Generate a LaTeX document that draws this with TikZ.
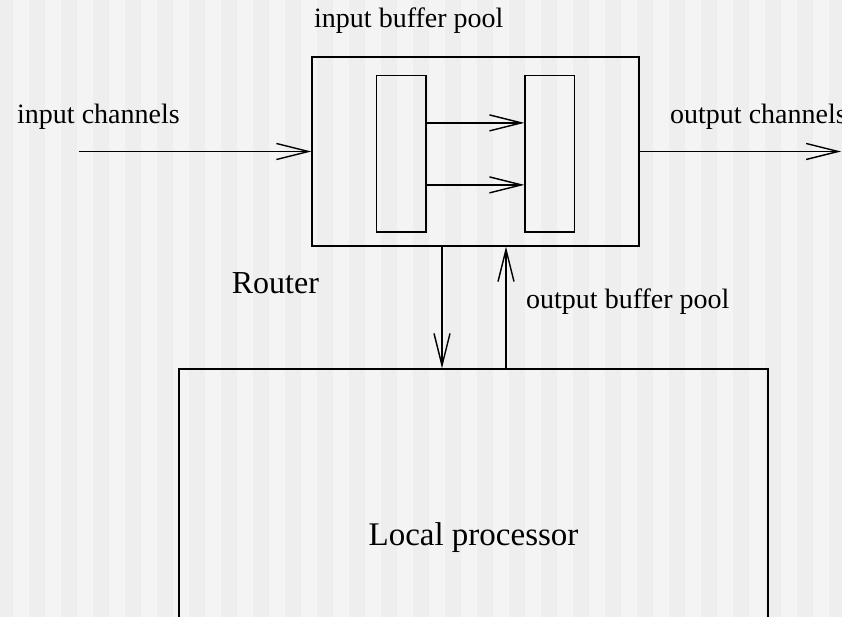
\documentclass[tikz,border=0pt]{standalone}
\usepackage{fontspec}
\setmainfont{Liberation Serif}
\usetikzlibrary{arrows.meta}

\definecolor{stripedark}{HTML}{EEEEEE}
\definecolor{stripelight}{HTML}{F4F4F4}

\tikzset{
  flow/.style={line width=1.4pt, -{Straight Barb[length=32pt, width=16pt, line width=1.4pt]}},
  unit/.style={draw, line width=1.4pt, inner sep=0pt},
  lbl/.style={inner sep=0pt, anchor=base west, font=\fontsize{28}{32}\selectfont}
}

\begin{document}
\begin{tikzpicture}[x=1pt, y=-1pt]

% ── Background stripes ──
\useasboundingbox (0,0) rectangle (842,617);
\fill[stripelight] (0,0) rectangle (842,617);
\foreach \i in {0,...,26}
  \fill[stripedark] ({32*\i-3.3},0) rectangle ({32*\i+12.7},617);

% ── Router with its two buffer pools ──
\node[unit, minimum width=327pt, minimum height=189pt] (router) at (475.5,151.5) {};
\node[unit, minimum width=49.3pt, minimum height=156.3pt] (inpool) at (401.4,153.9) {};
\node[unit, minimum width=49.3pt, minimum height=156.3pt] (outpool) at (549.7,153.9) {};
\draw[flow] ([yshift=31pt]inpool.east) -- ([yshift=31pt]inpool.east -| outpool.west);
\draw[flow] ([yshift=-31pt]inpool.east) -- ([yshift=-31pt]inpool.east -| outpool.west);

% Channels in and out
\coordinate (chin) at (79,151.5);
\coordinate (chout) at (841,151.5);
\draw[flow] (chin) -- (router.west);
\draw[flow] (router.east) -- (chout);

% ── Local processor (runs off the bottom) ──
\node[unit, minimum width=589pt, minimum height=338pt,
      font=\fontsize{33}{38}\selectfont] (proc) at (473.5,538) {Local processor};
\draw[flow] ([xshift=-33.5pt]router.south) -- ([xshift=-33.5pt]router.south |- proc.north);
\draw[flow] ([xshift=30.5pt]router.south |- proc.north) -- ([xshift=30.5pt]router.south);

% Labels
\node[lbl] (lin) at (17,124) {input channels};
\node[lbl] (lout) at (670,123.3) {output channels};
\node[lbl] (lpool) at (314,28) {input buffer pool};
\node[lbl] (lobuf) at (526,308.3) {output buffer pool};
\node[lbl, font=\fontsize{32}{36}\selectfont] (lrouter) at (231.7,293.3) {Router};

\end{tikzpicture}
\end{document}
